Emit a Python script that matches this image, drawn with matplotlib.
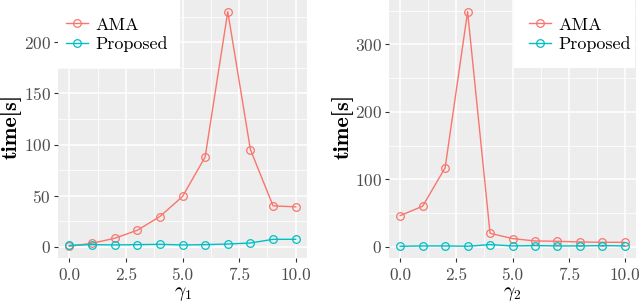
import numpy as np
import matplotlib
matplotlib.use("Agg")
import matplotlib.pyplot as plt
from matplotlib.ticker import MultipleLocator, FormatStrFormatter
from matplotlib.patches import Rectangle

plt.rcParams['font.family'] = 'cmr10'
plt.rcParams['mathtext.fontset'] = 'cm'
plt.rcParams['axes.formatter.use_mathtext'] = True

# data
gamma = np.arange(0, 11)
ama_g1 = [0.7, 3.6, 8.5, 16.3, 29.7, 49.3, 87.9, 229.7, 95.1, 40.2, 39.2]
prop_g1 = [1.6, 2.3, 2.0, 2.3, 2.6, 2.0, 2.3, 2.9, 3.9, 7.5, 7.5]
ama_g2 = [46, 60, 117, 348.5, 19.8, 11.9, 8.4, 7.9, 6.9, 6.4, 6.4]
prop_g2 = [0.5, 1.0, 1.0, 0.5, 3.0, 1.0, 1.5, 1.0, 1.0, 1.5, 1.0]

c_ama = "#F8766D"
c_prop = "#00BFC4"

fig = plt.figure(figsize=(6.4, 3.04), dpi=100)
ax1 = fig.add_axes([58/640, 1 - 258/304, 249/640, 258/304])
ax2 = fig.add_axes([389/640, 1 - 258/304, 247/640, 258/304])


def style(ax, ama, prop, ymajor, xlab, box_x, key_x):
    ax.set_facecolor("#EDEDED")
    ax.plot(gamma, ama, color=c_ama, marker='o', mfc='none', ms=5.5, lw=1, mew=0.9, label="AMA")
    ax.plot(gamma, prop, color=c_prop, marker='o', mfc='none', ms=5.5, lw=1, mew=0.9, label="Proposed")
    lo = min(min(ama), min(prop))
    hi = max(max(ama), max(prop))
    pad = (hi - lo) * 0.05
    ax.set_ylim(lo - pad, hi + pad)
    ax.set_xlim(-0.5, 10.5)
    ax.xaxis.set_major_locator(MultipleLocator(2.5))
    ax.xaxis.set_minor_locator(MultipleLocator(1.25))
    ax.yaxis.set_major_locator(MultipleLocator(ymajor))
    ax.yaxis.set_minor_locator(MultipleLocator(ymajor / 2))
    ax.xaxis.set_major_formatter(FormatStrFormatter('%.1f'))
    ax.grid(which='major', color='white', lw=1.1)
    ax.grid(which='minor', color='white', lw=0.55)
    ax.set_axisbelow(True)
    for s in ax.spines.values():
        s.set_visible(False)
    ax.tick_params(which='major', length=3, color='#333333', labelsize=12.5,
                   labelcolor='#4D4D4D', pad=2)
    ax.tick_params(axis='x', pad=4)
    ax.tick_params(which='minor', length=0)
    ax.set_xlabel(xlab, fontsize=14, va='top')
    ax.xaxis.set_label_coords(0.5, -0.105)
    ax.set_ylabel("time[s]", fontsize=16, family='cmb10')
    ax.yaxis.set_label_coords(-0.145, 0.508)

    # white legend panel like ggplot
    ax.add_patch(Rectangle((box_x, 1 - 68/258), 122/249, 68/258, transform=ax.transAxes,
                           facecolor='white', edgecolor='none', zorder=4, clip_on=False))
    leg = ax.legend(loc='upper left', bbox_to_anchor=(key_x, 1 - 17/258), fontsize=13,
                    frameon=False, borderaxespad=0, borderpad=0,
                    handlelength=1.2, labelspacing=0.2, handletextpad=0.45)
    leg.set_zorder(5)


style(ax1, ama_g1, prop_g1, 50, r"$\gamma_1$", 0.0, 8/249)
style(ax2, ama_g2, prop_g2, 100, r"$\gamma_2$", 1 - 122/247, (529 - 389)/247)

fig.savefig("out.png", dpi=100)
